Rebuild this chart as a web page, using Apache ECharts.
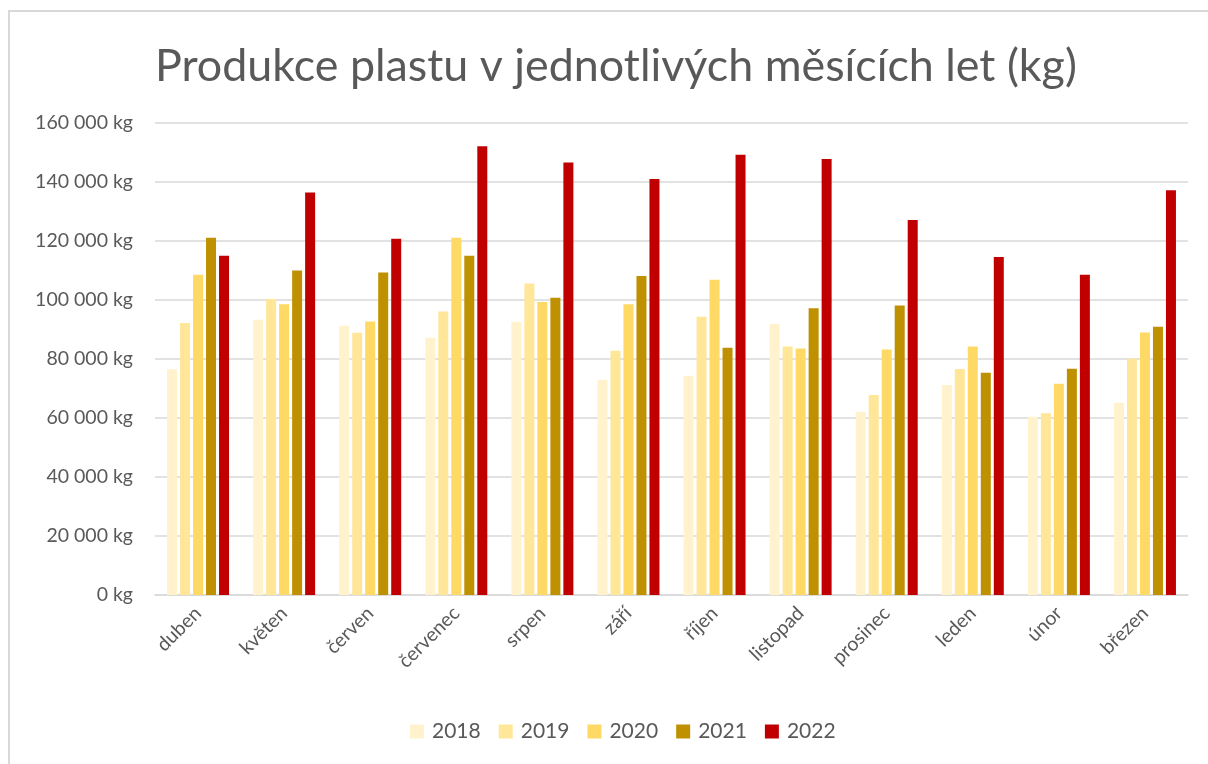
<!DOCTYPE html>
<html>
<head>
<meta charset="utf-8">
<script src="https://cdn.jsdelivr.net/npm/echarts@6/dist/echarts.min.js"></script>
<style>
html, body { margin: 0; padding: 0; background: #fff; }
#main { width: 1208px; height: 764px; }
</style>
</head>
<body>
<div id="main"></div>
<script>
var months = ['duben', 'květen', 'červen', 'červenec', 'srpen', 'září', 'říjen', 'listopad', 'prosinec', 'leden', 'únor', 'březen'];
var years = ['2018', '2019', '2020', '2021', '2022'];
var colors = ['#fff2cc', '#ffe699', '#ffd966', '#bf9000', '#c00000'];

var y2018 = [76500, 93300, 91300, 87200, 92600, 73000, 74300, 91900, 62100, 71200, 60400, 65200];
var y2019 = [92200, 100300, 88900, 96100, 105600, 82800, 94300, 84200, 67800, 76600, 61600, 80100];
var y2020 = [108600, 98600, 92700, 121100, 99300, 98600, 106900, 83600, 83200, 84200, 71600, 89000];
var y2021 = [121100, 110000, 109300, 115000, 100800, 108100, 83800, 97200, 98100, 75300, 76700, 90900];
var y2022 = [115000, 136400, 120800, 152100, 146600, 141000, 149200, 147800, 127100, 114600, 108600, 137200];
var values = [y2018, y2019, y2020, y2021, y2022];

var font = 'Lato, "Open Sans", sans-serif';
var textColor = '#595959';

function fmt(v) {
  return String(v).replace(/\B(?=(\d{3})+(?!\d))/g, ' ') + ' kg';
}

var series = years.map(function (y, i) {
  return {
    name: y,
    type: 'bar',
    data: values[i],
    barWidth: 10,
    barGap: '30%',
    itemStyle: { color: colors[i] }
  };
});

var chart = echarts.init(document.getElementById('main'));
chart.setOption({
  animation: false,
  color: colors,
  graphic: [{
    type: 'polyline',
    shape: { points: [[9, 800], [9, 11], [1210, 11]] },
    style: { fill: null, stroke: '#d9d9d9', lineWidth: 2 },
    silent: true
  }],
  title: {
    text: 'Produkce plastu v jednotlivých měsících let (kg)',
    left: 150,
    top: 39,
    textStyle: { fontFamily: font, fontSize: 44.8, fontWeight: 'normal', color: textColor }
  },
  legend: {
    data: years,
    bottom: 17,
    left: 405,
    itemWidth: 14,
    itemHeight: 14,
    itemGap: 18,
    icon: 'rect',
    textStyle: { fontFamily: font, fontSize: 21, color: textColor, padding: [0, 0, 0, 3] }
  },
  grid: { left: 155, right: 20, top: 123, bottom: 169 },
  xAxis: {
    type: 'category',
    data: months,
    axisLine: { lineStyle: { color: '#d9d9d9', width: 1.5 } },
    axisTick: { show: false },
    axisLabel: { rotate: 45, fontFamily: font, fontSize: 19.5, color: textColor, margin: 15, interval: 0 }
  },
  yAxis: {
    type: 'value',
    min: 0,
    max: 160000,
    interval: 20000,
    axisLine: { show: false },
    axisTick: { show: false },
    splitLine: { lineStyle: { color: '#d9d9d9', width: 1.5 } },
    axisLabel: { fontFamily: font, fontSize: 19.5, color: textColor, margin: 22, formatter: fmt }
  },
  series: series
});
</script>
</body>
</html>
